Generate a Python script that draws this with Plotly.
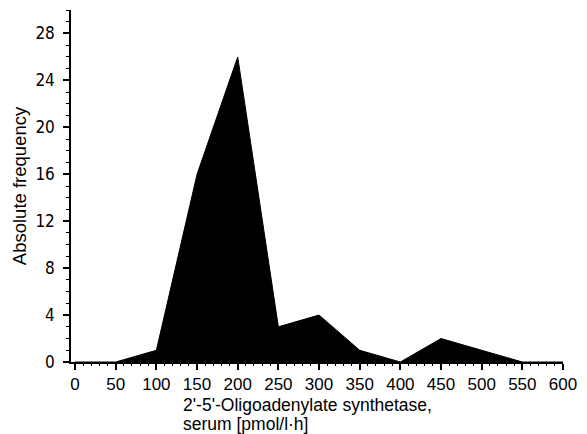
import plotly.graph_objects as go

x_vals = [0, 50, 100, 150, 200, 250, 300, 350, 400, 450, 500, 550, 600]
freq = [0, 0, 1, 16, 26, 3, 4, 1, 0, 2, 1, 0, 0]
y_ticks = [0, 4, 8, 12, 16, 20, 24, 28]
x_ticks = list(range(0, 601, 50))

fig = go.Figure()
fig.add_trace(go.Scatter(x=x_vals, y=freq, mode="lines", fill="tozeroy",
                         fillcolor="black", line=dict(color="black", width=1),
                         hoverinfo="skip"))

tick_font_y = dict(family="Liberation Sans Narrow, DejaVu Sans Condensed, Arial", size=17, color="black")
tick_font_x = dict(family="Liberation Sans, Arial", size=17, color="black")

fig.update_layout(
    width=587, height=434,
    margin=dict(l=71, r=17, t=10, b=72),
    paper_bgcolor="white", plot_bgcolor="white",
    showlegend=False,
    xaxis=dict(range=[-5, 600], tickvals=x_ticks, ticktext=[str(v) for v in x_ticks],
               showgrid=False, zeroline=False, showline=True, linecolor="black", linewidth=1.5,
               ticks="outside", ticklen=6, tickwidth=1.5, tickcolor="black",
               minor=dict(dtick=10, ticks="outside", ticklen=2, tickcolor="black", tickwidth=1, showgrid=False),
               tickfont=tick_font_x, fixedrange=True),
    yaxis=dict(range=[0, 30], tickvals=y_ticks, ticktext=[str(v) for v in y_ticks],
               showgrid=False, zeroline=False, showline=True, linecolor="black", linewidth=1.5,
               ticks="outside", ticklen=6, tickwidth=1.5, tickcolor="black",
               minor=dict(dtick=1, ticks="outside", ticklen=3, tickcolor="black", tickwidth=1, showgrid=False),
               tickfont=tick_font_y, ticklabelstandoff=5,
               title=dict(text="Absolute frequency", font=dict(family="Liberation Sans, Arial", size=18.5, color="black"),
                          standoff=4),
               fixedrange=True),
)

title_font = dict(family="Liberation Sans, Arial", size=17.5, color="black")
fig.add_annotation(text="2'-5'-Oligoadenylate synthetase,", xref="paper", yref="paper",
                   x=(184 - 71) / 499, y=-(405 - 362) / 352, xanchor="left", yanchor="middle",
                   showarrow=False, font=title_font, borderpad=0)
fig.add_annotation(text="serum [pmol/l·h]", xref="paper", yref="paper",
                   x=(184 - 71) / 499, y=-(424 - 362) / 352, xanchor="left", yanchor="middle",
                   showarrow=False, font=title_font, borderpad=0)

fig.write_html("out.html")
